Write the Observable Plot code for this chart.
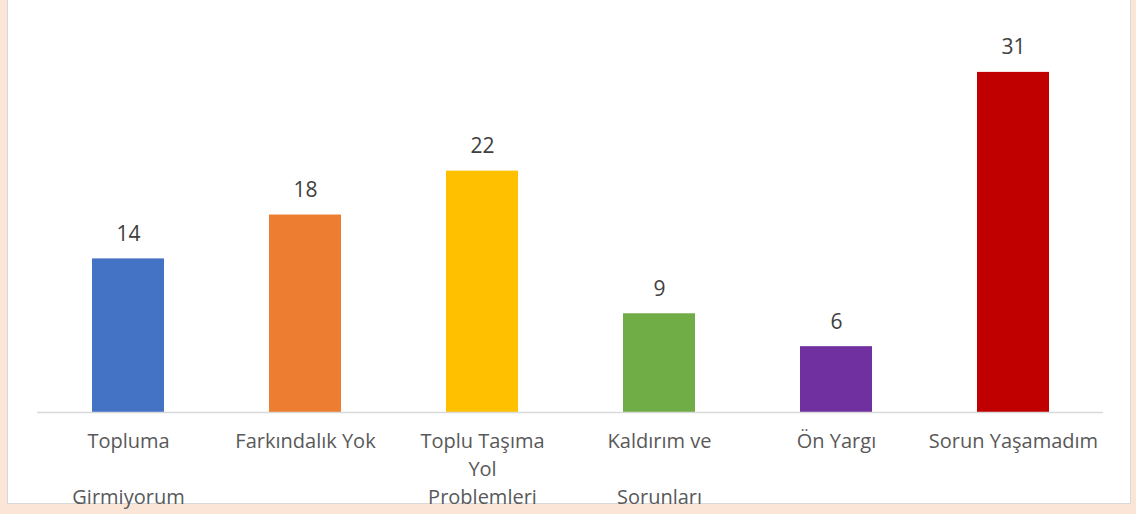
<!DOCTYPE html>
<html>
<head>
<meta charset="utf-8">
<script src="https://cdn.jsdelivr.net/npm/d3@7"></script>
<script src="https://cdn.jsdelivr.net/npm/@observablehq/plot@0.6"></script>
<style>
  html, body { margin: 0; padding: 0; background: #fbe5d6; width: 1136px; height: 514px; overflow: hidden; }
  #box { position: absolute; left: 7px; top: -1px; width: 1124px; height: 505px; background: #fff; border: 1px solid #d9d9d9; box-sizing: border-box; }
  #chart { position: absolute; left: 0; top: 0; }
  #chart svg { overflow: visible; }
</style>
</head>
<body>
<div id="box"></div>
<div id="chart"></div>
<script>
const categories = ["Topluma Girmiyorum", "Farkındalık Yok", "Toplu Taşıma Yol Problemleri", "Kaldırım ve Sorunları", "Ön Yargı", "Sorun Yaşamadım"];
const tickLabels = ["Topluma\n\nGirmiyorum", "Farkındalık Yok", "Toplu Taşıma\nYol\nProblemleri", "Kaldırım ve\n\nSorunları", "Ön Yargı", "Sorun Yaşamadım"];
const values = [14, 18, 22, 9, 6, 31];
const colors = ["#4472c4", "#ed7d31", "#ffc000", "#70ad47", "#7030a0", "#c00000"];

const data = categories.map((c, i) => ({category: c, label: tickLabels[i], value: values[i], color: colors[i]}));

const chart = Plot.plot({
  width: 1136,
  height: 514,
  marginLeft: 37,
  marginRight: 33,
  marginTop: 28,
  marginBottom: 102,
  style: {fontFamily: "'Open Sans', sans-serif", background: "transparent", overflow: "visible"},
  x: {domain: categories, paddingInner: 0.595, paddingOuter: 0.2975, axis: null},
  y: {domain: [0, 35], axis: null},
  marks: [
    Plot.barY(data, {x: "category", y: "value", fill: "color"}),
    Plot.ruleY([0], {stroke: "#d9d9d9", strokeWidth: 1.5}),
    Plot.text(data, {x: "category", y: "value", text: d => String(d.value), lineAnchor: "bottom", dy: -18, fontSize: 21, fill: "#404040"}),
    Plot.text(data, {x: "category", y: () => 0, text: "label", lineAnchor: "top", dy: 16, fontSize: 20, lineHeight: 1.4, fill: "#595959"})
  ]
});
document.getElementById("chart").appendChild(chart);
</script>
</body>
</html>
